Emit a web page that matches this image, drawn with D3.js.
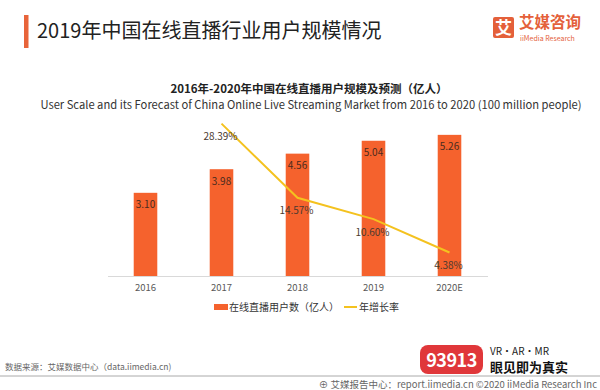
<!DOCTYPE html>
<html lang="zh">
<head>
    <meta charset="UTF-8">
    <title>2019年中国在线直播行业用户规模情况</title>
    <script src="https://d3js.org/d3.v7.min.js"></script>
    <style>
        body { margin: 0; background: #fff; }
        svg { display: block; font-family: "Noto Sans CJK SC", "Noto Sans", sans-serif; }
    </style>
</head>
<body>
    <div id="chart"></div>

    <script>
        const years = ["2016", "2017", "2018", "2019", "2020E"];
        const users = [3.10, 3.98, 4.56, 5.04, 5.26];
        const growthYears = ["2017", "2018", "2019", "2020E"];
        const growth = [28.39, 14.57, 10.60, 4.38];

        const width = 600, height = 390;
        const barColor = "#f5622d", lineColor = "#f4c21f";

        const svg = d3.select("#chart").append("svg")
            .attr("width", width)
            .attr("height", height);

        // header
        svg.append("rect").attr("x", 24).attr("y", 15).attr("width", 4.5).attr("height", 33).attr("fill", "#e8643a");
        svg.append("text").attr("x", 37).attr("y", 38)
            .attr("font-size", 20).attr("fill", "#222")
            .text("2019年中国在线直播行业用户规模情况");

        // logo
        svg.append("rect").attr("x", 493).attr("y", 17).attr("width", 21).attr("height", 21).attr("rx", 2).attr("fill", "#e4603a");
        svg.append("text").attr("x", 503.5).attr("y", 33.5).attr("text-anchor", "middle")
            .attr("font-size", 17).attr("font-weight", "bold").attr("fill", "#fff").text("艾");
        svg.append("text").attr("x", 519).attr("y", 28)
            .attr("font-size", 15.5).attr("font-weight", "bold").attr("fill", "#e4603a").text("艾媒咨询");
        svg.append("text").attr("x", 520).attr("y", 40.5)
            .attr("font-size", 7).attr("fill", "#e4603a").text("iiMedia Research");

        // chart titles
        svg.append("text").attr("x", 309).attr("y", 93).attr("text-anchor", "middle")
            .attr("font-size", 11.5).attr("font-weight", "bold").attr("fill", "#222")
            .text("2016年-2020年中国在线直播用户规模及预测（亿人）");
        svg.append("text").attr("x", 311).attr("y", 109).attr("text-anchor", "middle")
            .attr("font-size", 11.2).attr("fill", "#333")
            .text("User Scale and its Forecast of China Online Live Streaming Market from 2016 to 2020 (100 million people)");

        const x = d3.scaleBand().domain(years).range([107.5, 487.5])
            .paddingInner(0.69).paddingOuter(0.345);
        const y = d3.scaleLinear().domain([0, 6]).range([276, 115]);
        const y2 = d3.scaleLinear().domain([0, 30]).range([276, 115]);

        // bars
        svg.append("g").selectAll("rect")
            .data(users)
            .enter().append("rect")
            .attr("x", (d, i) => x(years[i]))
            .attr("y", d => y(d))
            .attr("width", x.bandwidth())
            .attr("height", d => y(0) - y(d))
            .attr("fill", barColor);

        svg.append("g").selectAll("text")
            .data(users)
            .enter().append("text")
            .attr("x", (d, i) => x(years[i]) + x.bandwidth() / 2)
            .attr("y", d => y(d) + 15.5)
            .attr("text-anchor", "middle")
            .attr("font-size", 10)
            .attr("fill", "#4a2b1e")
            .text(d => d.toFixed(2));

        // x axis
        const axis = svg.append("g")
            .attr("transform", "translate(0,276)")
            .call(d3.axisBottom(x).tickSize(0).tickSizeOuter(0).tickPadding(8));
        axis.select(".domain").attr("stroke", "#d9d9d9");
        axis.selectAll("text").attr("font-size", 9.5).attr("fill", "#595959")
            .attr("font-family", "\"Noto Sans CJK SC\", sans-serif");

        // growth line
        const line = d3.line()
            .x((d, i) => x(growthYears[i]) + x.bandwidth() / 2)
            .y(d => y2(d));

        svg.append("path")
            .datum(growth)
            .attr("d", line)
            .attr("fill", "none")
            .attr("stroke", lineColor)
            .attr("stroke-width", 2);

        svg.append("g").selectAll("text")
            .data(growth)
            .enter().append("text")
            .attr("x", (d, i) => x(growthYears[i]) + x.bandwidth() / 2 - 1)
            .attr("y", d => y2(d) + 16.5)
            .attr("text-anchor", "middle")
            .attr("font-size", 10)
            .attr("fill", "#4a3a30")
            .text(d => d.toFixed(2) + "%");

        // legend
        const legend = svg.append("g");
        legend.append("rect").attr("x", 214).attr("y", 304).attr("width", 14).attr("height", 6).attr("fill", barColor);
        legend.append("text").attr("x", 229).attr("y", 311).attr("font-size", 10).attr("fill", "#333")
            .text("在线直播用户数（亿人）");
        legend.append("line").attr("x1", 344).attr("x2", 357).attr("y1", 307).attr("y2", 307)
            .attr("stroke", lineColor).attr("stroke-width", 2);
        legend.append("text").attr("x", 359).attr("y", 311).attr("font-size", 10).attr("fill", "#333")
            .text("年增长率");

        // footer
        svg.append("text").attr("x", 5).attr("y", 370).attr("font-size", 8.5).attr("fill", "#666")
            .text("数据来源：艾媒数据中心（data.iimedia.cn)");
        svg.append("line").attr("x1", 0).attr("x2", width).attr("y1", 376).attr("y2", 376)
            .attr("stroke", "#aaa").attr("stroke-width", 1);
        svg.append("text").attr("x", 597).attr("y", 387.5).attr("text-anchor", "end")
            .attr("font-size", 9.5).attr("fill", "#666")
            .text("⊕ 艾媒报告中心：report.iimedia.cn  ©2020  iiMedia Research Inc");

        // watermark
        svg.append("rect").attr("x", 420).attr("y", 345).attr("width", 63).attr("height", 29).attr("rx", 8).attr("fill", "#e0373a");
        svg.append("text").attr("x", 451.5).attr("y", 366.5).attr("text-anchor", "middle")
            .attr("font-size", 18).attr("font-weight", "bold").attr("letter-spacing", -0.5)
            .attr("fill", "#fff").text("93913");
        svg.append("text").attr("x", 490).attr("y", 355).attr("font-size", 10).attr("fill", "#222").text("VR•AR•MR");
        svg.append("text").attr("x", 490).attr("y", 371.5).attr("font-size", 13).attr("font-weight", "bold").attr("fill", "#111").text("眼见即为真实");
    </script>
</body>
</html>
